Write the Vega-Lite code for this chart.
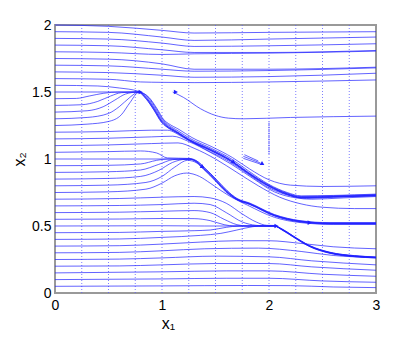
{
"$schema":"https://vega.github.io/schema/vega-lite/v6.json",
"width":321,"height":268,
"autosize":"none",
"padding":{"left":55,"top":25,"right":39,"bottom":45},
"background":"white",
"config":{"view":{"stroke":"#999999","strokeWidth":2},"font":"Liberation Sans"},
"datasets":{
"grid":[{"x":0.25},{"x":0.5},{"x":0.75},{"x":1},{"x":1.25},{"x":1.5},{"x":1.75},{"x":2},{"x":2.25},{"x":2.5},{"x":2.75}],
"vseg":[{"x":2,"y":1.04,"y2":1.28}],
"arrH":[{"x":0.8,"y":1.5},{"x":1.13,"y":1.5},{"x":2.07,"y":0.5},{"x":2.38,"y":0.525}],
"arrS":[{"x":1.38,"y":0.94},{"x":1.67,"y":0.975},{"x":1.94,"y":0.962}],
"lines":[
{"s":"t1","x":0,"y":2.0},{"s":"t1","x":0.5,"y":1.99},{"s":"t1","x":1.0,"y":1.96},{"s":"t1","x":1.3,"y":1.94},{"s":"t1","x":2.0,"y":1.945},{"s":"t1","x":3,"y":1.95},
{"s":"t2","x":0,"y":1.95},{"s":"t2","x":0.5,"y":1.945},{"s":"t2","x":1.0,"y":1.91},{"s":"t2","x":1.3,"y":1.885},{"s":"t2","x":2.0,"y":1.895},{"s":"t2","x":3,"y":1.91},
{"s":"t3","x":0,"y":1.9},{"s":"t3","x":0.5,"y":1.895},{"s":"t3","x":1.0,"y":1.865},{"s":"t3","x":1.3,"y":1.84},{"s":"t3","x":2.0,"y":1.845},{"s":"t3","x":3,"y":1.86},
{"s":"t4","x":0,"y":1.85},{"s":"t4","x":0.5,"y":1.845},{"s":"t4","x":1.0,"y":1.815},{"s":"t4","x":1.3,"y":1.795},{"s":"t4","x":2.0,"y":1.795},{"s":"t4","x":3,"y":1.81},
{"s":"t5","x":0,"y":1.8},{"s":"t5","x":0.5,"y":1.795},{"s":"t5","x":1.0,"y":1.78},{"s":"t5","x":1.3,"y":1.785},{"s":"t5","x":2.0,"y":1.79},{"s":"t5","x":3,"y":1.805},
{"s":"t6","x":0,"y":1.75},{"s":"t6","x":0.5,"y":1.745},{"s":"t6","x":1.0,"y":1.71},{"s":"t6","x":1.3,"y":1.67},{"s":"t6","x":2.0,"y":1.67},{"s":"t6","x":3,"y":1.685},
{"s":"t7","x":0,"y":1.7},{"s":"t7","x":0.5,"y":1.695},{"s":"t7","x":1.0,"y":1.67},{"s":"t7","x":1.3,"y":1.655},{"s":"t7","x":2.0,"y":1.66},{"s":"t7","x":3,"y":1.68},
{"s":"t8","x":0,"y":1.65},{"s":"t8","x":0.5,"y":1.645},{"s":"t8","x":1.0,"y":1.625},{"s":"t8","x":1.3,"y":1.61},{"s":"t8","x":2.0,"y":1.615},{"s":"t8","x":3,"y":1.64},
{"s":"t9","x":0,"y":1.6},{"s":"t9","x":0.5,"y":1.595},{"s":"t9","x":0.8,"y":1.575},{"s":"t9","x":1.0,"y":1.572},{"s":"t9","x":1.3,"y":1.57},{"s":"t9","x":2.0,"y":1.575},{"s":"t9","x":3,"y":1.59},
{"s":"ar","x":1.1,"y":1.5},{"s":"ar","x":1.2,"y":1.46},{"s":"ar","x":1.36,"y":1.375},{"s":"ar","x":1.5,"y":1.325},{"s":"ar","x":1.62,"y":1.305},{"s":"ar","x":1.76,"y":1.3},{"s":"ar","x":2.2,"y":1.31},{"s":"ar","x":3,"y":1.32},
{"s":"b0","x":0,"y":1.55},{"s":"b0","x":0.4,"y":1.545},{"s":"b0","x":0.6,"y":1.53},{"s":"b0","x":0.78,"y":1.505},{"s":"b0","x":0.878,"y":1.46},{"s":"b0","x":0.95,"y":1.38},{"s":"b0","x":1.02,"y":1.29},{"s":"b0","x":1.06,"y":1.265},{"s":"b0","x":1.16,"y":1.22},{"s":"b0","x":1.28,"y":1.16},{"s":"b0","x":1.47,"y":1.09},{"s":"b0","x":1.66,"y":1.01},{"s":"b0","x":1.82,"y":0.925},{"s":"b0","x":2.0,"y":0.845},{"s":"b0","x":2.2,"y":0.805},{"s":"b0","x":2.5,"y":0.795},{"s":"b0","x":3,"y":0.8},
{"s":"b1","x":0,"y":1.5},{"s":"b1","x":0.4,"y":1.5},{"s":"b1","x":0.78,"y":1.5},{"s":"b1","x":0.86,"y":1.45},{"s":"b1","x":0.93,"y":1.37},{"s":"b1","x":1.0,"y":1.28},{"s":"b1","x":1.04,"y":1.25},{"s":"b1","x":1.14,"y":1.2},{"s":"b1","x":1.26,"y":1.14},{"s":"b1","x":1.45,"y":1.07},{"s":"b1","x":1.64,"y":0.99},{"s":"b1","x":1.8,"y":0.9},{"s":"b1","x":2.0,"y":0.8},{"s":"b1","x":2.17,"y":0.74},{"s":"b1","x":2.3,"y":0.715},{"s":"b1","x":2.6,"y":0.72},{"s":"b1","x":3,"y":0.73},
{"s":"b2","x":0,"y":1.45},{"s":"b2","x":0.2,"y":1.452},{"s":"b2","x":0.32,"y":1.47},{"s":"b2","x":0.45,"y":1.49},{"s":"b2","x":0.6,"y":1.5},{"s":"b2","x":0.78,"y":1.5},{"s":"b2","x":0.866,"y":1.455},{"s":"b2","x":0.936,"y":1.375},{"s":"b2","x":1.006,"y":1.285},{"s":"b2","x":1.046,"y":1.255},{"s":"b2","x":1.14,"y":1.205},{"s":"b2","x":1.26,"y":1.145},{"s":"b2","x":1.45,"y":1.075},{"s":"b2","x":1.64,"y":0.995},{"s":"b2","x":1.8,"y":0.905},{"s":"b2","x":2.0,"y":0.805},{"s":"b2","x":2.17,"y":0.745},{"s":"b2","x":2.3,"y":0.72},{"s":"b2","x":2.6,"y":0.725},{"s":"b2","x":3,"y":0.735},
{"s":"b3","x":0,"y":1.4},{"s":"b3","x":0.25,"y":1.405},{"s":"b3","x":0.4,"y":1.43},{"s":"b3","x":0.52,"y":1.47},{"s":"b3","x":0.62,"y":1.495},{"s":"b3","x":0.78,"y":1.5},{"s":"b3","x":0.856,"y":1.446},{"s":"b3","x":0.926,"y":1.366},{"s":"b3","x":0.996,"y":1.276},{"s":"b3","x":1.036,"y":1.246},{"s":"b3","x":1.14,"y":1.196},{"s":"b3","x":1.26,"y":1.136},{"s":"b3","x":1.45,"y":1.066},{"s":"b3","x":1.64,"y":0.986},{"s":"b3","x":1.8,"y":0.896},{"s":"b3","x":2.0,"y":0.796},{"s":"b3","x":2.17,"y":0.736},{"s":"b3","x":2.3,"y":0.711},{"s":"b3","x":2.6,"y":0.716},{"s":"b3","x":3,"y":0.726},
{"s":"b4","x":0,"y":1.35},{"s":"b4","x":0.3,"y":1.36},{"s":"b4","x":0.45,"y":1.39},{"s":"b4","x":0.56,"y":1.44},{"s":"b4","x":0.66,"y":1.485},{"s":"b4","x":0.78,"y":1.5},{"s":"b4","x":0.872,"y":1.46},{"s":"b4","x":0.942,"y":1.38},{"s":"b4","x":1.012,"y":1.29},{"s":"b4","x":1.052,"y":1.26},{"s":"b4","x":1.15,"y":1.21},{"s":"b4","x":1.27,"y":1.15},{"s":"b4","x":1.46,"y":1.08},{"s":"b4","x":1.65,"y":1.0},{"s":"b4","x":1.81,"y":0.91},{"s":"b4","x":2.0,"y":0.81},{"s":"b4","x":2.17,"y":0.75},{"s":"b4","x":2.3,"y":0.725},{"s":"b4","x":2.6,"y":0.728},{"s":"b4","x":3,"y":0.738},
{"s":"b5","x":0,"y":1.3},{"s":"b5","x":0.3,"y":1.31},{"s":"b5","x":0.5,"y":1.34},{"s":"b5","x":0.6,"y":1.39},{"s":"b5","x":0.7,"y":1.46},{"s":"b5","x":0.78,"y":1.5},{"s":"b5","x":0.86,"y":1.45},{"s":"b5","x":0.93,"y":1.37},{"s":"b5","x":1.0,"y":1.28},{"s":"b5","x":1.04,"y":1.25},{"s":"b5","x":1.14,"y":1.2},{"s":"b5","x":1.26,"y":1.14},{"s":"b5","x":1.45,"y":1.07},{"s":"b5","x":1.64,"y":0.99},{"s":"b5","x":1.8,"y":0.9},{"s":"b5","x":2.0,"y":0.8},{"s":"b5","x":2.17,"y":0.74},{"s":"b5","x":2.3,"y":0.715},{"s":"b5","x":2.6,"y":0.72},{"s":"b5","x":3,"y":0.73},
{"s":"b6","x":0,"y":1.25},{"s":"b6","x":0.3,"y":1.26},{"s":"b6","x":0.5,"y":1.28},{"s":"b6","x":0.62,"y":1.33},{"s":"b6","x":0.7,"y":1.42},{"s":"b6","x":0.78,"y":1.495},{"s":"b6","x":0.854,"y":1.445},{"s":"b6","x":0.924,"y":1.365},{"s":"b6","x":0.994,"y":1.275},{"s":"b6","x":1.034,"y":1.245},{"s":"b6","x":1.14,"y":1.195},{"s":"b6","x":1.26,"y":1.135},{"s":"b6","x":1.45,"y":1.065},{"s":"b6","x":1.64,"y":0.985},{"s":"b6","x":1.8,"y":0.895},{"s":"b6","x":2.0,"y":0.795},{"s":"b6","x":2.17,"y":0.735},{"s":"b6","x":2.3,"y":0.712},{"s":"b6","x":2.6,"y":0.717},{"s":"b6","x":3,"y":0.727},
{"s":"c1","x":0,"y":1.2},{"s":"c1","x":0.5,"y":1.205},{"s":"c1","x":0.9,"y":1.215},{"s":"c1","x":1.05,"y":1.215},{"s":"c1","x":1.2,"y":1.16},{"s":"c1","x":1.4,"y":1.075},{"s":"c1","x":1.62,"y":0.985},{"s":"c1","x":1.8,"y":0.89},{"s":"c1","x":2.0,"y":0.785},{"s":"c1","x":2.2,"y":0.725},{"s":"c1","x":2.35,"y":0.705},{"s":"c1","x":2.6,"y":0.715},{"s":"c1","x":3,"y":0.725},
{"s":"c2","x":0,"y":1.15},{"s":"c2","x":0.5,"y":1.155},{"s":"c2","x":0.9,"y":1.165},{"s":"c2","x":1.1,"y":1.17},{"s":"c2","x":1.25,"y":1.13},{"s":"c2","x":1.45,"y":1.05},{"s":"c2","x":1.65,"y":0.96},{"s":"c2","x":1.85,"y":0.855},{"s":"c2","x":2.05,"y":0.755},{"s":"c2","x":2.25,"y":0.71},{"s":"c2","x":2.4,"y":0.7},{"s":"c2","x":2.7,"y":0.71},{"s":"c2","x":3,"y":0.72},
{"s":"c3","x":0,"y":1.1},{"s":"c3","x":0.5,"y":1.105},{"s":"c3","x":0.9,"y":1.115},{"s":"c3","x":1.15,"y":1.12},{"s":"c3","x":1.3,"y":1.08},{"s":"c3","x":1.5,"y":1.0},{"s":"c3","x":1.7,"y":0.9},{"s":"c3","x":1.9,"y":0.8},{"s":"c3","x":2.1,"y":0.715},{"s":"c3","x":2.3,"y":0.665},{"s":"c3","x":2.5,"y":0.64},{"s":"c3","x":2.8,"y":0.63},{"s":"c3","x":3,"y":0.63},
{"s":"d1","x":0,"y":1.05},{"s":"d1","x":0.5,"y":1.055},{"s":"d1","x":0.8,"y":1.06},{"s":"d1","x":0.95,"y":1.045},{"s":"d1","x":1.05,"y":1.008},{"s":"d1","x":1.26,"y":1.004},{"s":"d1","x":1.335,"y":0.98},{"s":"d1","x":1.395,"y":0.936},{"s":"d1","x":1.455,"y":0.89},{"s":"d1","x":1.515,"y":0.84},{"s":"d1","x":1.605,"y":0.766},{"s":"d1","x":1.7,"y":0.706},{"s":"d1","x":1.82,"y":0.671},{"s":"d1","x":2.05,"y":0.586},{"s":"d1","x":2.29,"y":0.54},{"s":"d1","x":2.57,"y":0.525},{"s":"d1","x":3,"y":0.525},
{"s":"d2","x":0,"y":1.0},{"s":"d2","x":0.5,"y":1.0},{"s":"d2","x":1.0,"y":1.0},{"s":"d2","x":1.26,"y":1.0},{"s":"d2","x":1.33,"y":0.975},{"s":"d2","x":1.39,"y":0.93},{"s":"d2","x":1.45,"y":0.885},{"s":"d2","x":1.51,"y":0.835},{"s":"d2","x":1.6,"y":0.76},{"s":"d2","x":1.7,"y":0.7},{"s":"d2","x":1.82,"y":0.665},{"s":"d2","x":2.05,"y":0.58},{"s":"d2","x":2.29,"y":0.535},{"s":"d2","x":2.57,"y":0.52},{"s":"d2","x":3,"y":0.52},
{"s":"d3","x":0,"y":0.95},{"s":"d3","x":0.5,"y":0.953},{"s":"d3","x":0.8,"y":0.963},{"s":"d3","x":0.95,"y":0.99},{"s":"d3","x":1.05,"y":1.0},{"s":"d3","x":1.26,"y":0.998},{"s":"d3","x":1.33,"y":0.972},{"s":"d3","x":1.39,"y":0.927},{"s":"d3","x":1.45,"y":0.882},{"s":"d3","x":1.51,"y":0.832},{"s":"d3","x":1.6,"y":0.757},{"s":"d3","x":1.7,"y":0.697},{"s":"d3","x":1.82,"y":0.662},{"s":"d3","x":2.05,"y":0.577},{"s":"d3","x":2.29,"y":0.532},{"s":"d3","x":2.57,"y":0.517},{"s":"d3","x":3,"y":0.517},
{"s":"d4","x":0,"y":0.9},{"s":"d4","x":0.5,"y":0.905},{"s":"d4","x":0.8,"y":0.918},{"s":"d4","x":0.97,"y":0.96},{"s":"d4","x":1.1,"y":0.995},{"s":"d4","x":1.2,"y":1.0},{"s":"d4","x":1.26,"y":1.0},{"s":"d4","x":1.338,"y":0.978},{"s":"d4","x":1.398,"y":0.933},{"s":"d4","x":1.458,"y":0.888},{"s":"d4","x":1.518,"y":0.838},{"s":"d4","x":1.608,"y":0.763},{"s":"d4","x":1.7,"y":0.704},{"s":"d4","x":1.82,"y":0.668},{"s":"d4","x":2.05,"y":0.583},{"s":"d4","x":2.29,"y":0.538},{"s":"d4","x":2.57,"y":0.522},{"s":"d4","x":3,"y":0.522},
{"s":"d5","x":0,"y":0.85},{"s":"d5","x":0.5,"y":0.855},{"s":"d5","x":0.8,"y":0.87},{"s":"d5","x":0.97,"y":0.915},{"s":"d5","x":1.1,"y":0.975},{"s":"d5","x":1.22,"y":0.998},{"s":"d5","x":1.26,"y":0.999},{"s":"d5","x":1.33,"y":0.975},{"s":"d5","x":1.39,"y":0.93},{"s":"d5","x":1.45,"y":0.885},{"s":"d5","x":1.51,"y":0.835},{"s":"d5","x":1.6,"y":0.76},{"s":"d5","x":1.7,"y":0.7},{"s":"d5","x":1.82,"y":0.665},{"s":"d5","x":2.05,"y":0.58},{"s":"d5","x":2.29,"y":0.535},{"s":"d5","x":2.57,"y":0.52},{"s":"d5","x":3,"y":0.52},
{"s":"d6","x":0,"y":0.8},{"s":"d6","x":0.5,"y":0.805},{"s":"d6","x":0.85,"y":0.825},{"s":"d6","x":1.0,"y":0.87},{"s":"d6","x":1.12,"y":0.94},{"s":"d6","x":1.24,"y":0.99},{"s":"d6","x":1.325,"y":0.97},{"s":"d6","x":1.385,"y":0.925},{"s":"d6","x":1.445,"y":0.88},{"s":"d6","x":1.505,"y":0.83},{"s":"d6","x":1.595,"y":0.755},{"s":"d6","x":1.7,"y":0.696},{"s":"d6","x":1.82,"y":0.66},{"s":"d6","x":2.05,"y":0.575},{"s":"d6","x":2.29,"y":0.53},{"s":"d6","x":2.57,"y":0.515},{"s":"d6","x":3,"y":0.515},
{"s":"d7","x":0,"y":0.75},{"s":"d7","x":0.5,"y":0.755},{"s":"d7","x":0.85,"y":0.775},{"s":"d7","x":1.0,"y":0.82},{"s":"d7","x":1.12,"y":0.875},{"s":"d7","x":1.23,"y":0.895},{"s":"d7","x":1.35,"y":0.87},{"s":"d7","x":1.45,"y":0.82},{"s":"d7","x":1.55,"y":0.765},{"s":"d7","x":1.65,"y":0.715},{"s":"d7","x":1.8,"y":0.655},{"s":"d7","x":2.05,"y":0.565},{"s":"d7","x":2.3,"y":0.525},{"s":"d7","x":2.6,"y":0.512},{"s":"d7","x":3,"y":0.512},
{"s":"e1","x":0,"y":0.7},{"s":"e1","x":0.6,"y":0.705},{"s":"e1","x":1.0,"y":0.715},{"s":"e1","x":1.3,"y":0.72},{"s":"e1","x":1.45,"y":0.71},{"s":"e1","x":1.6,"y":0.67},{"s":"e1","x":1.75,"y":0.59},{"s":"e1","x":1.88,"y":0.53},{"s":"e1","x":1.98,"y":0.505},{"s":"e1","x":2.05,"y":0.504},{"s":"e1","x":2.12,"y":0.479},{"s":"e1","x":2.23,"y":0.424},{"s":"e1","x":2.38,"y":0.354},{"s":"e1","x":2.57,"y":0.304},{"s":"e1","x":2.8,"y":0.279},{"s":"e1","x":3,"y":0.269},
{"s":"e2","x":0,"y":0.65},{"s":"e2","x":0.6,"y":0.653},{"s":"e2","x":1.0,"y":0.66},{"s":"e2","x":1.3,"y":0.67},{"s":"e2","x":1.45,"y":0.66},{"s":"e2","x":1.6,"y":0.6},{"s":"e2","x":1.75,"y":0.53},{"s":"e2","x":1.88,"y":0.505},{"s":"e2","x":2.0,"y":0.5},{"s":"e2","x":2.05,"y":0.5},{"s":"e2","x":2.12,"y":0.475},{"s":"e2","x":2.23,"y":0.42},{"s":"e2","x":2.38,"y":0.35},{"s":"e2","x":2.57,"y":0.3},{"s":"e2","x":2.8,"y":0.275},{"s":"e2","x":3,"y":0.265},
{"s":"e3","x":0,"y":0.6},{"s":"e3","x":0.6,"y":0.603},{"s":"e3","x":1.0,"y":0.61},{"s":"e3","x":1.3,"y":0.615},{"s":"e3","x":1.45,"y":0.6},{"s":"e3","x":1.58,"y":0.55},{"s":"e3","x":1.7,"y":0.51},{"s":"e3","x":1.8,"y":0.5},{"s":"e3","x":2.05,"y":0.5},{"s":"e3","x":2.12,"y":0.472},{"s":"e3","x":2.23,"y":0.417},{"s":"e3","x":2.38,"y":0.347},{"s":"e3","x":2.57,"y":0.297},{"s":"e3","x":2.8,"y":0.272},{"s":"e3","x":3,"y":0.262},
{"s":"e4","x":0,"y":0.55},{"s":"e4","x":0.6,"y":0.552},{"s":"e4","x":1.0,"y":0.556},{"s":"e4","x":1.3,"y":0.555},{"s":"e4","x":1.45,"y":0.54},{"s":"e4","x":1.58,"y":0.51},{"s":"e4","x":1.68,"y":0.5},{"s":"e4","x":2.05,"y":0.5},{"s":"e4","x":2.12,"y":0.475},{"s":"e4","x":2.23,"y":0.42},{"s":"e4","x":2.38,"y":0.35},{"s":"e4","x":2.57,"y":0.3},{"s":"e4","x":2.8,"y":0.275},{"s":"e4","x":3,"y":0.265},
{"s":"e5","x":0,"y":0.5},{"s":"e5","x":1.0,"y":0.502},{"s":"e5","x":1.4,"y":0.5},{"s":"e5","x":2.05,"y":0.5},{"s":"e5","x":2.12,"y":0.475},{"s":"e5","x":2.23,"y":0.42},{"s":"e5","x":2.38,"y":0.35},{"s":"e5","x":2.57,"y":0.3},{"s":"e5","x":2.8,"y":0.275},{"s":"e5","x":3,"y":0.265},
{"s":"e6","x":0,"y":0.45},{"s":"e6","x":0.6,"y":0.452},{"s":"e6","x":1.0,"y":0.46},{"s":"e6","x":1.3,"y":0.465},{"s":"e6","x":1.45,"y":0.47},{"s":"e6","x":1.6,"y":0.49},{"s":"e6","x":1.72,"y":0.5},{"s":"e6","x":2.05,"y":0.5},{"s":"e6","x":2.12,"y":0.478},{"s":"e6","x":2.23,"y":0.423},{"s":"e6","x":2.38,"y":0.353},{"s":"e6","x":2.57,"y":0.303},{"s":"e6","x":2.8,"y":0.278},{"s":"e6","x":3,"y":0.268},
{"s":"e7","x":0,"y":0.4},{"s":"e7","x":0.6,"y":0.403},{"s":"e7","x":1.0,"y":0.415},{"s":"e7","x":1.36,"y":0.43},{"s":"e7","x":1.55,"y":0.445},{"s":"e7","x":1.7,"y":0.47},{"s":"e7","x":1.85,"y":0.495},{"s":"e7","x":1.95,"y":0.5},{"s":"e7","x":2.05,"y":0.5},{"s":"e7","x":2.12,"y":0.471},{"s":"e7","x":2.23,"y":0.416},{"s":"e7","x":2.38,"y":0.346},{"s":"e7","x":2.57,"y":0.296},{"s":"e7","x":2.8,"y":0.271},{"s":"e7","x":3,"y":0.261},
{"s":"e8","x":0,"y":0.35},{"s":"e8","x":0.6,"y":0.353},{"s":"e8","x":1.0,"y":0.365},{"s":"e8","x":1.36,"y":0.38},{"s":"e8","x":1.7,"y":0.39},{"s":"e8","x":2.0,"y":0.39},{"s":"e8","x":2.3,"y":0.37},{"s":"e8","x":2.6,"y":0.345},{"s":"e8","x":3,"y":0.33},
{"s":"f1","x":0,"y":0.3},{"s":"f1","x":0.6,"y":0.303},{"s":"f1","x":1.0,"y":0.315},{"s":"f1","x":1.4,"y":0.33},{"s":"f1","x":1.9,"y":0.335},{"s":"f1","x":2.3,"y":0.31},{"s":"f1","x":2.6,"y":0.28},{"s":"f1","x":3,"y":0.265},
{"s":"f2","x":0,"y":0.25},{"s":"f2","x":0.6,"y":0.253},{"s":"f2","x":1.0,"y":0.262},{"s":"f2","x":1.5,"y":0.275},{"s":"f2","x":2.0,"y":0.27},{"s":"f2","x":2.4,"y":0.24},{"s":"f2","x":3,"y":0.21},
{"s":"f3","x":0,"y":0.2},{"s":"f3","x":0.6,"y":0.202},{"s":"f3","x":1.0,"y":0.21},{"s":"f3","x":1.5,"y":0.22},{"s":"f3","x":2.0,"y":0.22},{"s":"f3","x":2.4,"y":0.195},{"s":"f3","x":3,"y":0.17},
{"s":"f4","x":0,"y":0.15},{"s":"f4","x":1.0,"y":0.158},{"s":"f4","x":1.6,"y":0.165},{"s":"f4","x":2.0,"y":0.165},{"s":"f4","x":2.5,"y":0.14},{"s":"f4","x":3,"y":0.125},
{"s":"f5","x":0,"y":0.1},{"s":"f5","x":1.0,"y":0.105},{"s":"f5","x":1.6,"y":0.11},{"s":"f5","x":2.0,"y":0.11},{"s":"f5","x":2.5,"y":0.09},{"s":"f5","x":3,"y":0.08},
{"s":"f6","x":0,"y":0.05},{"s":"f6","x":1.0,"y":0.053},{"s":"f6","x":1.8,"y":0.056},{"s":"f6","x":2.2,"y":0.055},{"s":"f6","x":2.6,"y":0.045},{"s":"f6","x":3,"y":0.04},
{"s":"q1","x":1.76,"y":1.02},{"s":"q1","x":1.92,"y":0.97},
{"s":"q2","x":1.76,"y":1.005},{"s":"q2","x":1.92,"y":0.962},
{"s":"q3","x":1.77,"y":1.032},{"s":"q3","x":1.9,"y":0.985}
]},
"layer":[
{"data":{"name":"grid"},"mark":{"type":"rule","color":"#5c5cff","strokeWidth":0.8,"strokeDash":[1,2]},
 "encoding":{"x":{"field":"x","type":"quantitative","scale":{"domain":[0,3],"nice":false,"zero":false},
   "axis":{"values":[0,1,2,3],"format":"d","ticks":false,"domain":false,"grid":false,"labelFlush":false,"labelFontSize":14,"labelPadding":5,"labelColor":"#000","title":"x₁","titleFontSize":16,"titleFontWeight":"normal","titleColor":"#000","titleX":113,"titleY":35,"titleBaseline":"alphabetic","titleAlign":"center"}}}},
{"data":{"name":"lines"},"mark":{"type":"line","interpolate":"monotone","color":"#1f1fff","strokeWidth":0.7},
 "encoding":{"x":{"field":"x","type":"quantitative","scale":{"domain":[0,3],"nice":false,"zero":false},
   "axis":{"values":[0,1,2,3],"format":"d","ticks":false,"domain":false,"grid":false,"labelFlush":false,"labelFontSize":14,"labelPadding":5,"labelColor":"#000","title":"x₁","titleFontSize":16,"titleFontWeight":"normal","titleColor":"#000","titleX":113,"titleY":35,"titleBaseline":"alphabetic","titleAlign":"center"}},
  "y":{"field":"y","type":"quantitative","scale":{"domain":[0,2],"nice":false,"zero":false},
   "axis":{"values":[0,0.5,1,1.5,2],"format":"~g","ticks":false,"domain":false,"grid":false,"labelFlush":false,"labelFontSize":14,"labelPadding":4,"labelColor":"#000","title":"x₂","titleFontSize":16,"titleFontWeight":"normal","titleColor":"#000","titleX":-31,"titleY":134,"titleBaseline":"alphabetic","titleAlign":"center"}},
  "detail":{"field":"s","type":"nominal"}}},
{"data":{"name":"vseg"},"mark":{"type":"rule","color":"#3a3aff","strokeWidth":1.2,"strokeDash":[1,1]},
 "encoding":{"x":{"field":"x","type":"quantitative"},"y":{"field":"y","type":"quantitative"},"y2":{"field":"y2"}}},
{"data":{"name":"arrH"},"mark":{"type":"point","shape":"triangle-right","filled":true,"size":22,"color":"#1f1fff","opacity":1},
 "encoding":{"x":{"field":"x","type":"quantitative"},"y":{"field":"y","type":"quantitative"}}},
{"data":{"name":"arrS"},"mark":{"type":"point","shape":"triangle-right","filled":true,"size":22,"color":"#1f1fff","opacity":1,"angle":30},
 "encoding":{"x":{"field":"x","type":"quantitative"},"y":{"field":"y","type":"quantitative"}}}
]
}
